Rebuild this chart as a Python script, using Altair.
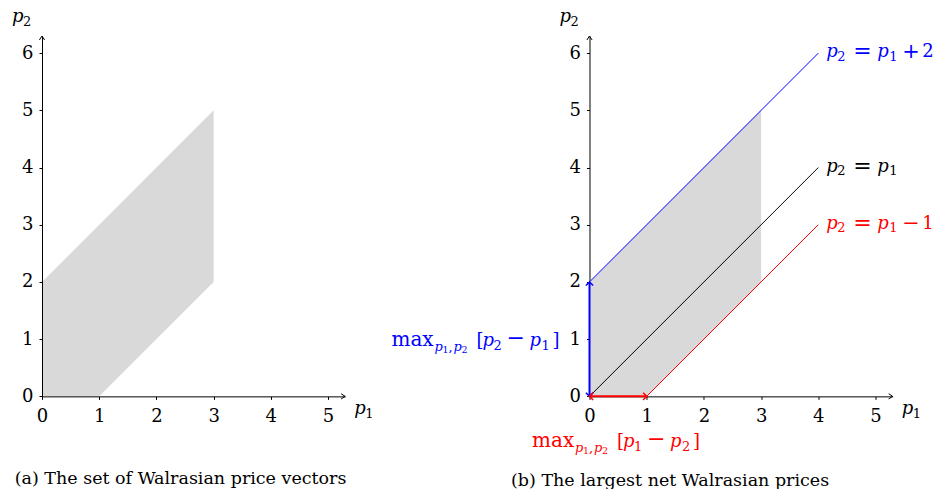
import math
import altair as alt
import pandas as pd

# ---------------- data ----------------
ticks_p1 = [0, 1, 2, 3, 4, 5]
ticks_p2 = [0, 1, 2, 3, 4, 5, 6]
axis_end_p1 = 5.3
axis_end_p2 = 6.3
axis_title_p1 = "p_1"
axis_title_p2 = "p_2"

region_p1 = [0, 1, 3]
region_p2_upper = [2, 3, 5]
region_p2_lower = [0, 0, 2]

line_names = ["p2 = p1 + 2", "p2 = p1", "p2 = p1 - 1"]
line_p1_from = [0, 0, 1]
line_p2_from = [2, 0, 0]
line_p1_to = [4, 4, 4]
line_p2_to = [6, 4, 3]
line_labels = ["p_2 = p_1 + 2", "p_2 = p_1", "p_2 = p_1 − 1"]

arrow_names = ["p2 = p1 + 2", "p2 = p1 - 1"]
arrow_p1_from = [0, 0]
arrow_p2_from = [0, 0]
arrow_p1_to = [0, 1]
arrow_p2_to = [2, 0]
arrow_label_op = ["max", "max"]
arrow_label_sub = ["p_1,p_2", "p_1,p_2"]
arrow_label_body = ["[p_2 − p_1]", "[p_1 − p_2]"]

caption_a = "(a) The set of Walrasian price vectors"
caption_b = "(b) The largest net Walrasian prices"

# ---------------- style ----------------
FONT = "DejaVu Serif"
FS = 18       # main text size
FS_SUB = 13   # subscript size
FS_SUB2 = 9.5 # second-level subscript size
FS_REL = 22   # relation / operator symbols
UNIT = 57.2
W = axis_end_p1 * UNIT
H = axis_end_p2 * UNIT
line_colors = ["#0000ff", "#000000", "#ff0000"]
color_scale = alt.Scale(domain=line_names, range=line_colors)
AXIS_HEAD = "M-1,-0.65L0,0L-1,0.65"
ARROW_HEAD = "M-0.9,-0.9L0,0L-0.9,0.9"


def split_var(tok):
    base, _, sub = tok.partition("_")
    return base, sub


# ---------------- tables ----------------
region_df = pd.DataFrame({"p1": region_p1, "upper": region_p2_upper, "lower": region_p2_lower})

line_rows = []
for i, n in enumerate(line_names):
    line_rows.append({"name": n, "p1": line_p1_from[i], "p2": line_p2_from[i], "k": 0})
    line_rows.append({"name": n, "p1": line_p1_to[i], "p2": line_p2_to[i], "k": 1})
lines_df = pd.DataFrame(line_rows)

lab_rows = []
for i, n in enumerate(line_names):
    toks = line_labels[i].split(" ")
    lv, ls = split_var(toks[0])
    rv, rs = split_var(toks[2])
    lab_rows.append({"name": n, "p1": line_p1_to[i], "p2": line_p2_to[i],
                     "lv": lv, "ls": ls, "rel": toks[1], "rv": rv, "rs": rs,
                     "op": toks[3] if len(toks) > 3 else "", "num": toks[4] if len(toks) > 4 else ""})
line_lab_df = pd.DataFrame(lab_rows)
tail_df = line_lab_df[line_lab_df["op"] != ""]

arrows_df = pd.DataFrame({"name": arrow_names, "p1": arrow_p1_from, "p2": arrow_p2_from,
                          "p1e": arrow_p1_to, "p2e": arrow_p2_to})


def heading(dx, dy):
    return math.degrees(math.atan2(-dy, dx)) % 360


head_rows = []
for i, n in enumerate(arrow_names):
    dx = arrow_p1_to[i] - arrow_p1_from[i]
    dy = arrow_p2_to[i] - arrow_p2_from[i]
    head_rows.append({"name": n, "p1": arrow_p1_to[i], "p2": arrow_p2_to[i], "angle": heading(dx, dy)})
    head_rows.append({"name": n, "p1": arrow_p1_from[i], "p2": arrow_p2_from[i], "angle": heading(-dx, -dy)})
heads_df = pd.DataFrame(head_rows)

axis_heads_df = pd.DataFrame({"p1": [axis_end_p1, 0], "p2": [0, axis_end_p2],
                              "angle": [heading(1, 0), heading(0, 1)]})
v1_, s1_ = split_var(axis_title_p1)
v2_, s2_ = split_var(axis_title_p2)
xtitle_df = pd.DataFrame({"p1": [axis_end_p1], "p2": [0], "v": [v1_], "s": [s1_]})
ytitle_df = pd.DataFrame({"p1": [0], "p2": [axis_end_p2], "v": [v2_], "s": [s2_]})

arrow_rows = []
for i, n in enumerate(arrow_names):
    body = arrow_label_body[i]
    inner = body[1:-1].split(" ")
    v1, s1 = split_var(inner[0])
    v2, s2 = split_var(inner[2])
    sa, sb = arrow_label_sub[i].split(",")
    sav, sas = split_var(sa)
    sbv, sbs = split_var(sb)
    arrow_rows.append({
        "name": n,
        "p1": (arrow_p1_from[i] + arrow_p1_to[i]) / 2,
        "p2": (arrow_p2_from[i] + arrow_p2_to[i]) / 2,
        "op": arrow_label_op[i],
        "sav": sav, "sas": sas, "comma": ",", "sbv": sbv, "sbs": sbs,
        "lb": body[0], "v1": v1, "s1": s1, "minus": inner[1], "v2": v2, "s2": s2, "rb": body[-1],
    })
arrow_lab_df = pd.DataFrame(arrow_rows)

# ---------------- axes ----------------
def x_axis(z):
    return alt.Axis(values=ticks_p1, grid=False, zindex=z, domainColor="#000", domainWidth=1,
                    tickColor="#000", tickSize=3, tickWidth=1, labelFont=FONT, labelFontSize=FS,
                    labelColor="#000", labelPadding=8, labelFlush=False, labelOverlap=False,
                    title=None)


def y_axis(z):
    return alt.Axis(values=ticks_p2, grid=False, zindex=z, domainColor="#000", domainWidth=1,
                    tickColor="#000", tickSize=3, tickWidth=1, labelFont=FONT, labelFontSize=FS,
                    labelColor="#000", labelPadding=6, labelOverlap=False, title=None)


def enc_xy(z):
    return dict(
        x=alt.X("p1:Q", scale=alt.Scale(domain=[0, axis_end_p1], nice=False, zero=False), axis=x_axis(z)),
        y=alt.Y("p2:Q", scale=alt.Scale(domain=[0, axis_end_p2], nice=False, zero=False), axis=y_axis(z)),
    )


COLOR = alt.Color("name:N", scale=color_scale, legend=None)


def piece(df, field, dx, dy, xy, italic=False, size=FS, colored=True):
    kw = dict(font=FONT, fontSize=size, baseline="alphabetic", align="left", dx=dx, dy=dy)
    if italic:
        kw["fontStyle"] = "italic"
    col = COLOR if colored else alt.value("#000000")
    return alt.Chart(df).mark_text(**kw).encode(**xy, color=col, text=f"{field}:N")


def axis_layers(z):
    xy = enc_xy(z)
    heads = alt.Chart(axis_heads_df).mark_point(
        shape=AXIS_HEAD, filled=False, size=64, strokeWidth=1, opacity=1
    ).encode(**xy, color=alt.value("#000000"), angle=alt.Angle("angle:Q", scale=None))
    titles = [
        piece(xtitle_df, "v", 9, 18, xy, italic=True, colored=False),
        piece(xtitle_df, "s", 20, 22, xy, size=FS_SUB, colored=False),
        piece(ytitle_df, "v", -30, -14, xy, italic=True, colored=False),
        piece(ytitle_df, "s", -19, -10, xy, size=FS_SUB, colored=False),
    ]
    return [heads, *titles]


def area_layer(z):
    xy = enc_xy(z)
    return alt.Chart(region_df).mark_area(color="#d9d9d9", opacity=1).encode(
        x=xy["x"],
        y=alt.Y("upper:Q", scale=alt.Scale(domain=[0, axis_end_p2], nice=False, zero=False), axis=y_axis(z)),
        y2="lower:Q",
    )


# ---------------- panel (a) ----------------
panel_a = alt.layer(area_layer(1), *axis_layers(1)).properties(
    width=W, height=H,
    title=alt.TitleParams(caption_a, orient="bottom", anchor="middle", frame="group", font=FONT,
                          fontSize=17.5, fontWeight="normal", color="#000", offset=59, dx=-13,
                          baseline="alphabetic"),
)

# ---------------- panel (b) ----------------
xy = enc_xy(0)
lines = alt.Chart(lines_df).mark_line(strokeWidth=1).encode(
    **xy, stroke=alt.Stroke("name:N", scale=color_scale, legend=None), order="k:Q"
)
arrows = alt.Chart(arrows_df).mark_rule(strokeWidth=2).encode(
    **xy, x2="p1e:Q", y2="p2e:Q", color=COLOR
)
arrow_heads = alt.Chart(heads_df).mark_point(
    shape=ARROW_HEAD, filled=False, size=64, strokeWidth=1.5, opacity=1
).encode(**xy, color=COLOR, angle=alt.Angle("angle:Q", scale=None))

# line labels: p_2 = p_1 (+ c)
LD = 4
line_label_layers = [
    piece(line_lab_df, "lv", 8, LD, xy, italic=True),
    piece(line_lab_df, "ls", 19, LD + 3.5, xy, size=FS_SUB),
    piece(line_lab_df, "rel", 35, LD + 1, xy, size=FS_REL),
    piece(line_lab_df, "rv", 59, LD, xy, italic=True),
    piece(line_lab_df, "rs", 71, LD + 3.5, xy, size=FS_SUB),
    piece(tail_df, "op", 84, LD + 1, xy, size=FS_REL - 1),
    piece(tail_df, "num", 104, LD, xy),
]


def max_label(df, x0, dy):
    s = x0 + 43   # start of subscript
    b = x0 + 85   # start of bracketed body
    return [
        piece(df, "op", x0, dy, xy, size=20),
        piece(df, "sav", s, dy + 5, xy, italic=True, size=FS_SUB),
        piece(df, "sas", s + 8, dy + 7, xy, size=FS_SUB2),
        piece(df, "comma", s + 14, dy + 5, xy, size=FS_SUB),
        piece(df, "sbv", s + 19, dy + 5, xy, italic=True, size=FS_SUB),
        piece(df, "sbs", s + 27, dy + 7, xy, size=FS_SUB2),
        piece(df, "lb", b, dy, xy),
        piece(df, "v1", b + 6, dy, xy, italic=True),
        piece(df, "s1", b + 17, dy + 3.5, xy, size=FS_SUB),
        piece(df, "minus", b + 30, dy - 1, xy, size=FS_REL),
        piece(df, "v2", b + 53, dy, xy, italic=True),
        piece(df, "s2", b + 65, dy + 3.5, xy, size=FS_SUB),
        piece(df, "rb", b + 76, dy, xy),
    ]


blue_lab = arrow_lab_df[arrow_lab_df["name"] == arrow_names[0]]
red_lab = arrow_lab_df[arrow_lab_df["name"] == arrow_names[1]]
blue_layers = max_label(blue_lab, -198, 7)
red_layers = max_label(red_lab, -86, 51)

panel_b = alt.layer(area_layer(0), lines, arrows, arrow_heads, *axis_layers(0),
                    *line_label_layers, *blue_layers, *red_layers).properties(
    width=W, height=H,
    title=alt.TitleParams(caption_b, orient="bottom", anchor="middle", frame="group", font=FONT,
                          fontSize=17.5, fontWeight="normal", color="#000", offset=30, dx=-71,
                          baseline="alphabetic"),
)

chart = alt.hconcat(panel_a, panel_b, spacing=17.5).properties(
    padding={"left": 4, "top": 0, "right": 0, "bottom": 0}
).configure_view(stroke=None)

chart.save("out.html", embed_options={"renderer": "svg", "actions": False})
